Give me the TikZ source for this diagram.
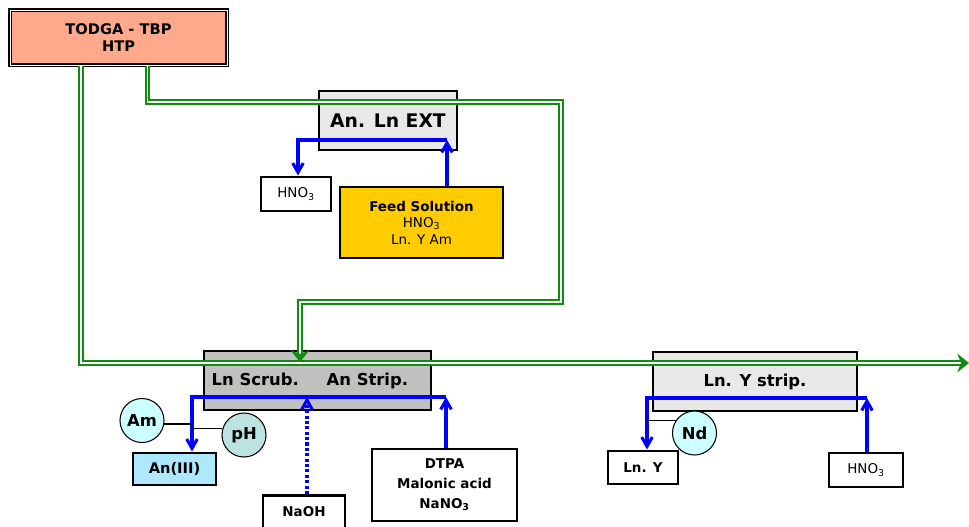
\documentclass[tikz,border=0pt]{standalone}
\usepackage{fontspec}
\setmainfont{DejaVu Sans}
\usepackage{xcolor}
\usetikzlibrary{arrows.meta}
\definecolor{salmon}{HTML}{FFA98C}
\definecolor{feedgold}{HTML}{FFCC00}
\definecolor{paleg}{HTML}{E8E8E8}
\definecolor{midg}{HTML}{C0C0C0}
\definecolor{palecyan}{HTML}{CCFFFF}
\definecolor{phteal}{HTML}{BCE2E2}
\definecolor{skyb}{HTML}{ADE8FF}
\definecolor{solvgreen}{HTML}{118C11}

\begin{document}
\begin{tikzpicture}[x=0.03cm,y=-0.03cm,
  box/.style={draw,line width=2.5pt,align=center,inner sep=0pt,
              font=\bfseries\fontsize{11.5}{17}\selectfont},
  txtbox/.style={draw,line width=2.5pt,align=center,inner sep=0pt,
              font=\fontsize{11.5}{14}\selectfont},
  ball/.style={circle,draw,line width=0.9pt,minimum size=1.32cm,inner sep=0pt,
               fill=palecyan,font=\bfseries\fontsize{14}{15}\selectfont},
  pipe/.style={draw=solvgreen,line width=1.6pt,double=white,double distance=1.7pt},
  flow/.style={draw=blue,line width=2.6pt},
  tie/.style={draw=black,line width=1pt},
  gtip/.style={-{Stealth[length=10pt,width=16pt]}},
  btip/.style={-{Straight Barb[length=8pt,width=9pt]}}]
\useasboundingbox (0,0) rectangle (969,527);
\node[box,fill=salmon,line width=1.6pt,double,double distance=0.8pt,minimum width=6.51cm,
      minimum height=1.65cm,font=\bfseries\fontsize{12.5}{15}\selectfont] (todga) at (118.5,37.5) {TODGA - TBP\\HTP};
\node[box,fill=paleg,minimum width=4.14cm,minimum height=1.77cm,
      font=\bfseries\fontsize{16}{18}\selectfont] (ext) at (388,120.5) {An. Ln EXT};
\node[txtbox,fill=white,minimum width=2.1cm,minimum height=1.02cm] (hno3a) at (296,194) {HNO\textsubscript{3}};
\node[box,fill=feedgold,minimum width=4.89cm,minimum height=2.13cm,
      font=\fontsize{11.5}{14}\selectfont] (feed) at (421.5,222.5) {\textbf{Feed Solution}\\HNO\textsubscript{3}\\Ln. Y Am};
\node[box,fill=midg,minimum width=6.81cm,minimum height=1.77cm,
      font=\bfseries\fontsize{14}{15}\selectfont] (scrub) at (317.5,380.5) {Ln Scrub.\hspace{1.7em}An Strip.\kern13pt};
\node[box,fill=paleg,minimum width=6.12cm,minimum height=1.77cm,
      font=\bfseries\fontsize{14}{15}\selectfont] (ystrip) at (755,381.5) {Ln. Y strip.};
\node[box,fill=skyb,minimum width=2.49cm,minimum height=0.96cm,
      font=\bfseries\fontsize{12.5}{15}\selectfont] (an3) at (174.5,469) {An(III)};
\node[ball] (am) at (142,420.5) {Am};
\node[ball,fill=phteal] (ph) at (244,435) {pH};
\node[box,fill=white,minimum width=2.46cm,minimum height=0.99cm] (naoh) at (304,512) {NaOH};
\node[box,fill=white,minimum width=4.35cm,minimum height=2.16cm] (dtpa) at (444.5,485) {DTPA\\Malonic acid\\NaNO\textsubscript{3}};
\node[box,fill=white,minimum width=2.1cm,minimum height=0.99cm] (lny) at (643,467.5) {Ln. Y};
\node[ball] (nd) at (694.5,433) {Nd};
\node[txtbox,fill=white,minimum width=2.22cm,minimum height=1.02cm] (hno3b) at (866,470) {HNO\textsubscript{3}};

\coordinate (b1) at (147.5,102);
\coordinate (b2) at (561,302);
\coordinate (feedin) at (300,362);
\coordinate (b3) at (81,363);
\coordinate (out) at (969,363);
\draw[pipe,gtip] (todga.south -| b3) -- (b3) -- (out);
\draw[pipe,gtip] (todga.south -| b1) -- (b1) -| (b2) -| (feedin);

\coordinate (e1) at (298,140); \coordinate (e2) at (447,140);
\draw[flow,btip] (feed.north -| e2) -- (e2);
\draw[flow,btip] (e2) -- (e1) -- (hno3a.north -| e1);
\coordinate (s1) at (192,397); \coordinate (s2) at (446,397); \coordinate (s3) at (307,397);
\draw[flow,btip] (dtpa.north -| s2) -- (s2);
\draw[flow,btip] (s2) -- (s1) -- (an3.north -| s1);
\draw[flow,btip,dotted] (naoh.north -| s3) -- (s3);
\coordinate (y1) at (647,398); \coordinate (y2) at (867,398);
\draw[flow,btip] (hno3b.north -| y2) -- (y2);
\draw[flow,btip] (y2) -- (y1) -- (lny.north -| y1);
\draw[tie] (am.-9) -- (am.-9 -| s1);
\draw[tie] (ph.164) -- (ph.164 -| s1);
\draw[tie] (nd.147) -- (nd.147 -| y1);
\end{tikzpicture}
\end{document}
